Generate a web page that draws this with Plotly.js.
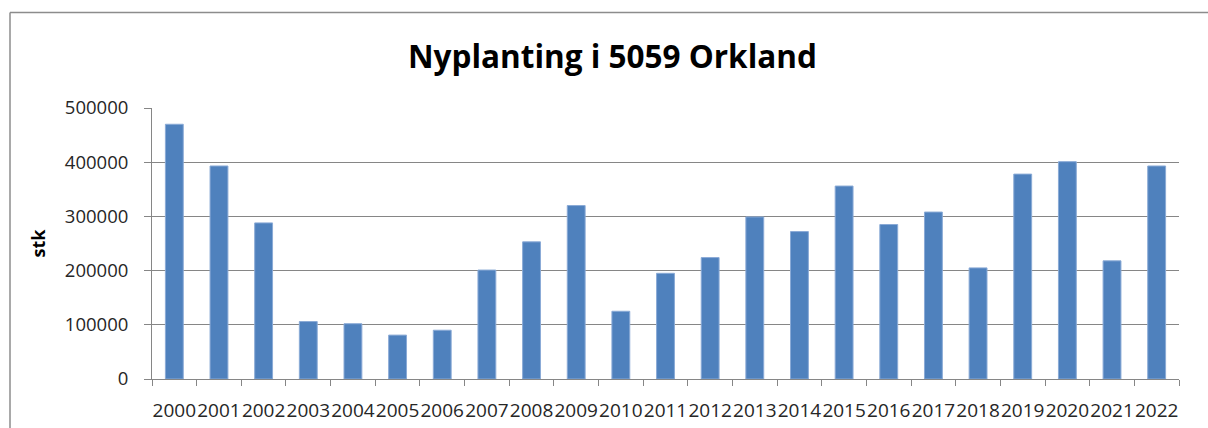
<!DOCTYPE html>
<html>
<head>
<meta charset="utf-8">
<script src="https://cdn.plot.ly/plotly-3.0.1.min.js"></script>
<style>
html, body { margin: 0; padding: 0; background: #fff; }
#chart { width: 1208px; height: 428px; }
</style>
</head>
<body>
<div id="chart"></div>
<script>
const years = ["2000","2001","2002","2003","2004","2005","2006","2007","2008","2009","2010","2011",
               "2012","2013","2014","2015","2016","2017","2018","2019","2020","2021","2022"];
const plantings = [470000, 393000, 288000, 106000, 102000, 81000, 90000, 201000, 253000, 320000, 125000, 195000,
                   224000, 299000, 272000, 356000, 285000, 308000, 205000, 378000, 401000, 218000, 393000];
const yTicks = [0, 100000, 200000, 300000, 400000, 500000];
const titleText = "Nyplanting i 5059 Orkland";
const yTitleText = "stk";

const trace = {
  type: "bar",
  x: years,
  y: plantings,
  marker: { color: "#4F81BD", line: { color: "#8aaad6", width: 1 } },
  hoverinfo: "x+y"
};

const W = 1208, H = 428;
const ml = 152, mr = 29, mt = 108, mb = 49;
const pw = W - ml - mr, ph = H - mt - mb;
// border positions in paper coords
const leftX = (10 - ml) / pw;
const topY = (H - mb - 12.5) / ph;
const rightX = (W - ml) / pw;
const bottomY = -mb / ph - 0.05;

const layout = {
  width: W, height: H,
  margin: { l: ml, r: mr, t: mt, b: mb, pad: 0 },
  paper_bgcolor: "#ffffff",
  plot_bgcolor: "#ffffff",
  showlegend: false,
  bargap: 0.6,
  font: { family: "Open Sans, sans-serif", color: "#262626" },
  title: {
    text: titleText,
    xref: "container", yref: "container",
    x: 0.507, y: 1 - 57 / H, xanchor: "center", yanchor: "middle",
    font: { family: "Open Sans, sans-serif", size: 31.5, color: "#000000", weight: "bold" }
  },
  xaxis: {
    type: "category",
    tickson: "boundaries",
    ticks: "outside", ticklen: 6, tickcolor: "#868686", tickwidth: 1,
    showline: true, linecolor: "#868686", linewidth: 1,
    showgrid: false,
    tickangle: 0,
    ticklabelstandoff: 14,
    tickfont: { size: 19, color: "#262626" },
    fixedrange: true
  },
  yaxis: {
    range: [0, 500000],
    tickvals: yTicks,
    ticktext: yTicks.map(v => String(v)),
    ticks: "outside", ticklen: 7, tickcolor: "#868686", tickwidth: 1,
    showline: true, linecolor: "#868686", linewidth: 1,
    showgrid: true, gridcolor: "#868686", gridwidth: 1,
    zeroline: false,
    tickfont: { size: 18.5, color: "#262626" },
    ticklabelstandoff: 12,
    title: { text: yTitleText, standoff: 14, font: { size: 18, color: "#000000", weight: "bold" } },
    fixedrange: true
  },
  shapes: [
    { type: "line", xref: "paper", yref: "paper", x0: leftX, x1: rightX, y0: topY, y1: topY,
      line: { color: "#8c8c8c", width: 1.5 } },
    { type: "line", xref: "paper", yref: "paper", x0: leftX, x1: leftX, y0: topY, y1: bottomY,
      line: { color: "#8c8c8c", width: 1.5 } }
  ]
};

Plotly.newPlot("chart", [trace], layout, { displayModeBar: false, staticPlot: true });
</script>
</body>
</html>
